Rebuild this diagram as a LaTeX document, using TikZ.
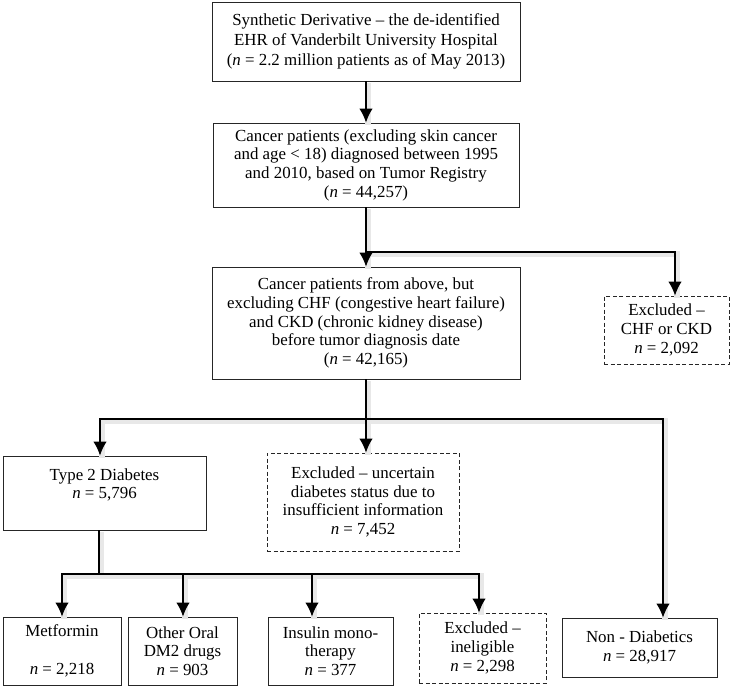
\documentclass[tikz,border=0pt]{standalone}
\usepackage{fontspec}
\setmainfont{Liberation Serif}
\usetikzlibrary{calc,arrows.meta,positioning}

\begin{document}
\begin{tikzpicture}[x=1pt,y=-1pt,thick]
\fontsize{16.9}{18.7}\selectfont
\tikzstyle{box}=[draw=black!85, line width=0.9pt, align=center, inner sep=0pt]
\tikzstyle{exbox}=[box, dash pattern=on 4pt off 2.5pt]
\tikzstyle{glow}=[draw=black!9, line width=6pt, transform canvas={shift={(2pt,-2pt)}}]
\tikzstyle{arr}=[line width=1.3pt, -{Latex[length=14pt,width=13.5pt]}]
\useasboundingbox (0,0) rectangle (746,687);
% top chain
\node[box, minimum width=308, minimum height=79, font=\fontsize{16.9}{20}\selectfont] (sd) at (366,41.5)
    {Synthetic Derivative -- the de-identified\\EHR of Vanderbilt University Hospital\\ (\textit{n} = 2.2 million patients as of May 2013)};
\node[box, minimum width=306, minimum height=84] (cancer) at (366,165)
    {Cancer patients (excluding skin cancer\\and age < 18) diagnosed between 1995\\and 2010, based on Tumor Registry\\(\textit{n} = 44,257)};
\node[box, minimum width=308, minimum height=112] (nochf) at (366,323)
    {Cancer patients from above, but\\excluding CHF (congestive heart failure)\\and CKD (chronic kidney disease)\\before tumor diagnosis date\\(\textit{n} = 42,165)};
\node[exbox, minimum width=125, minimum height=68] (exchf) at (666.5,330)
    {Excluded --\\CHF or CKD\\\textit{n} = 2,092};
% second level
\node[box, minimum width=203, minimum height=74] (t2d) at (104.5,493)
    {Type 2 Diabetes\\\textit{n} = 5,796\\\mbox{}};
\node[exbox, minimum width=192, minimum height=98] (exunc) at (363,502)
    {Excluded -- uncertain\\diabetes status due to\\insufficient information\\\textit{n} = 7,452};
\node[box, minimum width=155, minimum height=59] (nondiab) at (639.5,647.5)
    {Non - Diabetics\\\textit{n} = 28,917};
% treatment groups
\node[box, minimum width=118, minimum height=68] (met) at (62,651)
    {Metformin\\\mbox{}\\\textit{n} = 2,218};
\node[box, minimum width=109, minimum height=68] (oral) at (182.5,651)
    {Other Oral\\DM2 drugs\\\textit{n} = 903};
\node[box, minimum width=125, minimum height=68] (ins) at (330.5,651)
    {Insulin mono-\\therapy\\\textit{n} = 377};
\node[exbox, minimum width=127, minimum height=70] (exin) at (482.5,648)
    {Excluded --\\ineligible\\\textit{n} = 2,298};

\coordinate (j1) at (366,252);
\coordinate (j2) at (366,419);
\coordinate (j3) at (99,574);

% shadows first, then the lines on top
\foreach \sty in {glow,arr}
   {
    \draw[\sty] (sd) -- (cancer);
    \draw[\sty] (cancer) -- (nochf);
    \draw[\sty] (j1) -| ([xshift=8.5]exchf.north);
    \draw[\sty] (nochf) -- (nochf |- exunc.north);
    \draw[\sty] (j2) -| ([xshift=-4.5]t2d.north);
    \draw[\sty] (j2) -| ([xshift=23.5]nondiab.north);
    \draw[\sty, -] ([xshift=-5.5]t2d.south) -- (j3);
    \foreach \n/\s in {met/0,oral/0.5,ins/-18.5,exin/-3.5}
        \draw[\sty] (j3) -| ([xshift=\s]\n.north);
   }
\end{tikzpicture}
\end{document}
